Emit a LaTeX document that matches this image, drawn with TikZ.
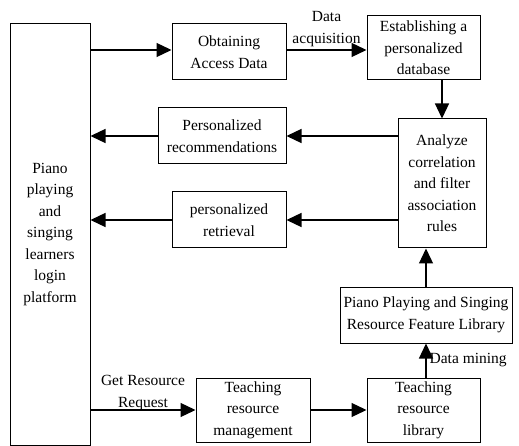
\documentclass[tikz,border=0pt]{standalone}
\usepackage{fontspec}
\setmainfont{Liberation Serif}
\usepackage{tikz}
\usetikzlibrary{
  arrows.meta,
  calc,
  positioning
}
\tikzset{
  blk/.style={
    draw,
    line width=1pt,
    align=center,
    inner sep=0pt,
    font=\fontsize{15.5}{21.5}\selectfont},
  flow/.style={
    line width=1.3pt,
    -{Triangle[length=15pt,width=14pt]}},
  lbl/.style={
    align=center,
    inner sep=1pt,
    font=\fontsize{15.5}{21.5}\selectfont}
  }

\begin{document}
\begin{tikzpicture}[x=1pt,y=-1pt]
		\useasboundingbox (0,0) rectangle (519,446);
		\node [blk, minimum width=80pt, minimum height=421pt] (plat) at (50,234.5) {Piano\\playing\\and\\singing\\learners\\login\\platform};
		\node [blk, minimum width=114pt, minimum height=56pt] (obt) at (229,52) {Obtaining\\Access Data};
		\node [blk, minimum width=113pt, minimum height=64pt] (est) at (423.5,48) {Establishing a\\personalized\\database};
		\node [blk, minimum width=88pt, minimum height=129pt] (ana) at (442,183.5) {Analyze\\correlation\\and filter\\association\\rules};
		\node [blk, minimum width=128pt, minimum height=56pt] (rec) at (222,136) {Personalized\\recommendations};
		\node [blk, minimum width=114pt, minimum height=56pt] (ret) at (229,220) {personalized\\retrieval};
		\node [blk, minimum width=172pt, minimum height=56pt] (feat) at (426,315) {Piano Playing and Singing\\Resource Feature Library};
		\node [blk, minimum width=114pt, minimum height=64pt] (mgmt) at (253,410) {Teaching\\resource\\management};
		\node [blk, minimum width=113pt, minimum height=64pt] (lib) at (423.5,410) {Teaching\\resource\\library};
		% row of the top arrows
		\coordinate (top) at (0,50);
		\draw [flow] (plat.east |- top) to (obt.west |- top);
		\draw [flow] (obt.east |- top) to node [lbl, above, yshift=2pt] {Data\\acquisition} (est.west |- top);
		\draw [flow] (ana.north |- est.south) to (ana.north);
		\draw [flow] (ana.west |- rec.east) to (rec.east);
		\draw [flow] (rec.west) to (plat.east |- rec.west);
		\draw [flow] (ana.west |- ret.east) to (ret.east);
		\draw [flow] (ret.west) to (plat.east |- ret.west);
		\draw [flow] (feat.north) to (feat.north |- ana.south);
		\draw [flow] (feat.south |- lib.north) to node [lbl, right, xshift=2pt] {Data mining} (feat.south);
		\draw [flow] (plat.east |- mgmt.west) to node [lbl, above, yshift=-2pt] {Get Resource\\Request} (mgmt.west);
		\draw [flow] (mgmt.east) to (lib.west);
	\end{tikzpicture}
\end{document}
